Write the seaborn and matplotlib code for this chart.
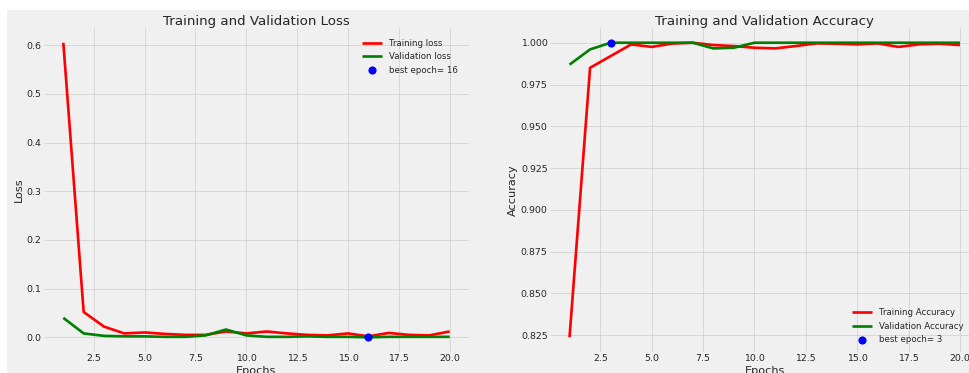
import matplotlib
matplotlib.use("Agg")
import matplotlib.pyplot as plt
import seaborn as sns
import pandas as pd
from matplotlib.patches import Rectangle

# Training history per epoch
epochs = list(range(1, 21))
train_loss = [0.605, 0.052, 0.022, 0.008, 0.010, 0.007, 0.005, 0.005, 0.012, 0.008,
              0.012, 0.008, 0.005, 0.004, 0.008, 0.002, 0.009, 0.005, 0.004, 0.012]
val_loss = [0.040, 0.008, 0.003, 0.002, 0.002, 0.001, 0.001, 0.004, 0.016, 0.004,
            0.001, 0.001, 0.002, 0.001, 0.001, 0.0001, 0.001, 0.001, 0.001, 0.001]
train_acc = [0.8238, 0.985, 0.992, 0.999, 0.9975, 0.9995, 1.000, 0.9986, 0.998, 0.997,
             0.9966, 0.998, 0.9996, 0.9994, 0.999, 0.9996, 0.9975, 0.999, 0.9994, 0.9986]
val_acc = [0.9869, 0.996, 1.000, 1.000, 1.000, 1.000, 1.000, 0.9966, 0.997, 1.000,
           1.000, 1.000, 1.000, 1.000, 1.000, 1.000, 1.000, 1.000, 1.000, 1.000]

hist = pd.DataFrame({"epoch": epochs, "train_loss": train_loss, "val_loss": val_loss,
                     "train_acc": train_acc, "val_acc": val_acc})

best_loss_epoch = int(hist.loc[hist["val_loss"].idxmin(), "epoch"])
best_acc_epoch = int(hist.loc[hist["val_acc"].idxmax(), "epoch"])
best_loss = hist["val_loss"].min()
best_acc = hist["val_acc"].max()

RED = "#ff0000"
GREEN = "#008000"

sns.set_theme()
plt.style.use("fivethirtyeight")
plt.rcParams.update({
    "xtick.labelsize": 14,
    "ytick.labelsize": 14,
    "legend.fontsize": 13,
    "legend.handlelength": 2.4,
    "axes.labelsize": 16.8,
    "axes.titlesize": 20,
})

dpi = 48
fig = plt.figure(figsize=(969 / dpi, 373 / dpi), dpi=dpi)
fig.patch.set_facecolor("white")
fig.patches.append(Rectangle((7 / 969, 0), 1, (373 - 10) / 373, transform=fig.transFigure,
                             facecolor="#f0f0f0", edgecolor="none", zorder=-10))

ax1 = fig.add_axes([44 / 969, 21 / 373, 425 / 969, 324 / 373])
ax2 = fig.add_axes([550 / 969, 21 / 373, 429.5 / 969, 324 / 373])

# Loss panel
sns.lineplot(data=hist, x="epoch", y="train_loss", color=RED, label="Training loss", ax=ax1)
sns.lineplot(data=hist, x="epoch", y="val_loss", color=GREEN, label="Validation loss", ax=ax1)
sns.scatterplot(x=[best_loss_epoch], y=[best_loss], s=150, color="blue", linewidth=0,
                label=f"best epoch= {best_loss_epoch}", ax=ax1, zorder=5)
ax1.set_title("Training and Validation Loss", pad=4)
ax1.set_xlabel("Epochs")
ax1.set_ylabel("Loss")
ax1.legend(loc="upper right", frameon=False, borderaxespad=0.85)

# Accuracy panel
sns.lineplot(data=hist, x="epoch", y="train_acc", color=RED, label="Training Accuracy", ax=ax2)
sns.lineplot(data=hist, x="epoch", y="val_acc", color=GREEN, label="Validation Accuracy", ax=ax2)
sns.scatterplot(x=[best_acc_epoch], y=[best_acc], s=150, color="blue", linewidth=0,
                label=f"best epoch= {best_acc_epoch}", ax=ax2, zorder=5)
ax2.set_title("Training and Validation Accuracy", pad=4)
ax2.set_xlabel("Epochs")
ax2.set_ylabel("Accuracy")
ax2.legend(loc="lower right", frameon=False, bbox_to_anchor=(0.972, 0.014), borderaxespad=0)

for ax in (ax1, ax2):
    ax.set_facecolor("#f0f0f0")
    ax.grid(True, color="#cbcbcb", linewidth=1.0)
    for s in ax.spines.values():
        s.set_visible(False)
    ax.tick_params(length=0)

fig.savefig("out.png", dpi=dpi, facecolor=fig.get_facecolor())
